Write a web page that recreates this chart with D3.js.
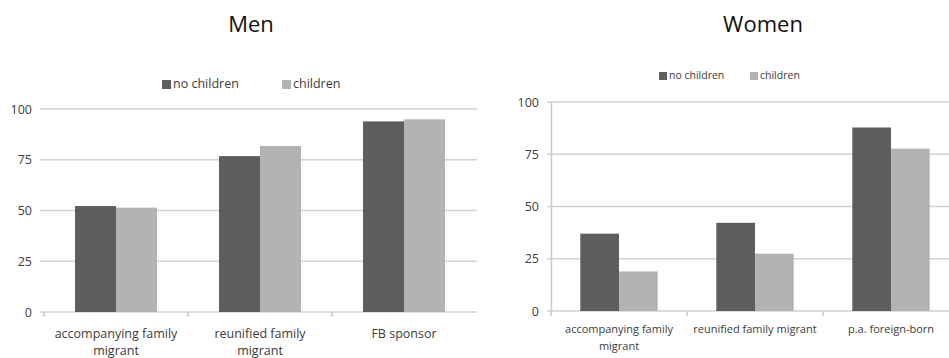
<!DOCTYPE html>
<html><head><meta charset="utf-8">
<script src="https://cdn.jsdelivr.net/npm/d3@7"></script>
<style>
html,body{margin:0;padding:0;background:#fff;}
svg{display:block;font-family:"Open Sans",sans-serif;}
</style></head>
<body>
<svg id="c" width="949" height="358"></svg>
<script>
const series = ["no children", "children"];
const colors = ["#5e5e5e", "#b3b3b3"];
const yTicks = [0, 25, 50, 75, 100];

const menCategories = [["accompanying family", "migrant"], ["reunified family", "migrant"], ["FB sponsor"]];
const menNoChildren = [52.2, 76.8, 93.9];
const menChildren = [51.4, 81.8, 94.9];

const womenCategories = [["accompanying family", "migrant"], ["reunified family migrant"], ["p.a. foreign-born"]];
const womenNoChildren = [37, 42.2, 87.8];
const womenChildren = [18.9, 27.4, 77.7];

const svg = d3.select("#c");

function drawChart(cfg) {
  const g = svg.append("g");
  const cats = cfg.cats.map((c, i) => i);
  const x0 = d3.scaleBand().domain(cats).range([cfg.x0, cfg.x1]).padding(0);
  const x1 = d3.scaleBand().domain(series).range([cfg.groupPad, x0.step() - cfg.groupPad]).padding(0);
  const y = d3.scaleLinear().domain([0, 100]).range([cfg.yBottom, cfg.yTop]);

  // title
  g.append("text").attr("x", cfg.titleX).attr("y", 32).attr("text-anchor", "middle")
    .attr("font-size", 22).attr("fill", "#111").text(cfg.title);

  // gridlines
  g.selectAll(".grid").data(yTicks).join("line")
    .attr("x1", cfg.x0 - 4).attr("x2", cfg.gridEnd)
    .attr("y1", d => y(d)).attr("y2", d => y(d))
    .attr("stroke", "#d2d2d2").attr("stroke-width", 1.5);

  // y labels
  const yAxis = d3.axisLeft(y).tickValues(yTicks).tickSize(0).tickPadding(cfg.tickPad);
  const ya = g.append("g").attr("transform", `translate(${cfg.x0},0)`).call(yAxis);
  ya.select(".domain").attr("stroke", cfg.yAxisLine ? "#c8c8c8" : "none").attr("stroke-width", 1.5);
  ya.selectAll("text").attr("font-size", 12.5).attr("fill", "#3c3c3c").attr("font-family", "Open Sans");

  // x axis ticks
  const bounds = d3.range(cats.length).map(i => x0(i));
  g.selectAll(".xt").data(bounds).join("line")
    .attr("x1", d => d).attr("x2", d => d)
    .attr("y1", cfg.yBottom).attr("y2", cfg.yBottom + 5)
    .attr("stroke", "#c8c8c8").attr("stroke-width", 1.5);

  // bars
  const vals = [cfg.a, cfg.b];
  cats.forEach(i => {
    series.forEach((s, k) => {
      g.append("rect")
        .attr("x", x0(i) + x1(s)).attr("width", x1.bandwidth())
        .attr("y", y(vals[k][i])).attr("height", y(0) - y(vals[k][i]))
        .attr("fill", colors[k]);
    });
  });

  // category labels
  cats.forEach(i => {
    const t = g.append("text").attr("text-anchor", "middle")
      .attr("font-size", cfg.catFont).attr("fill", "#3c3c3c");
    cfg.cats[i].forEach((line, j) => {
      t.append("tspan").attr("x", x0(i) + x0.step() / 2)
        .attr("y", cfg.catY + j * cfg.catLine).text(line);
    });
  });

  // legend
  series.forEach((s, k) => {
    g.append("rect").attr("x", cfg.legX[k]).attr("y", cfg.legY - cfg.legSq + 1)
      .attr("width", cfg.legSq).attr("height", cfg.legSq).attr("fill", colors[k]);
    g.append("text").attr("x", cfg.legX[k] + cfg.legSq + 2).attr("y", cfg.legY)
      .attr("font-size", cfg.legFont).attr("fill", "#3c3c3c").text(s);
  });
}

drawChart({
  title: "Men", titleX: 251, cats: menCategories, a: menNoChildren, b: menChildren,
  x0: 44, x1: 476, gridEnd: 477, yTop: 109, yBottom: 312, groupPad: 31,
  tickPad: 12, yAxisLine: false, catFont: 12.5, catY: 338, catLine: 17,
  legX: [162, 282], legY: 88, legSq: 9, legFont: 12.5
});
drawChart({
  title: "Women", titleX: 763, cats: womenCategories, a: womenNoChildren, b: womenChildren,
  x0: 551, x1: 959, gridEnd: 949, yTop: 102, yBottom: 311, groupPad: 29.3,
  tickPad: 12, yAxisLine: true, catFont: 11, catY: 333, catLine: 17,
  legX: [659, 750], legY: 79, legSq: 8, legFont: 10.5
});
</script>
</body></html>
